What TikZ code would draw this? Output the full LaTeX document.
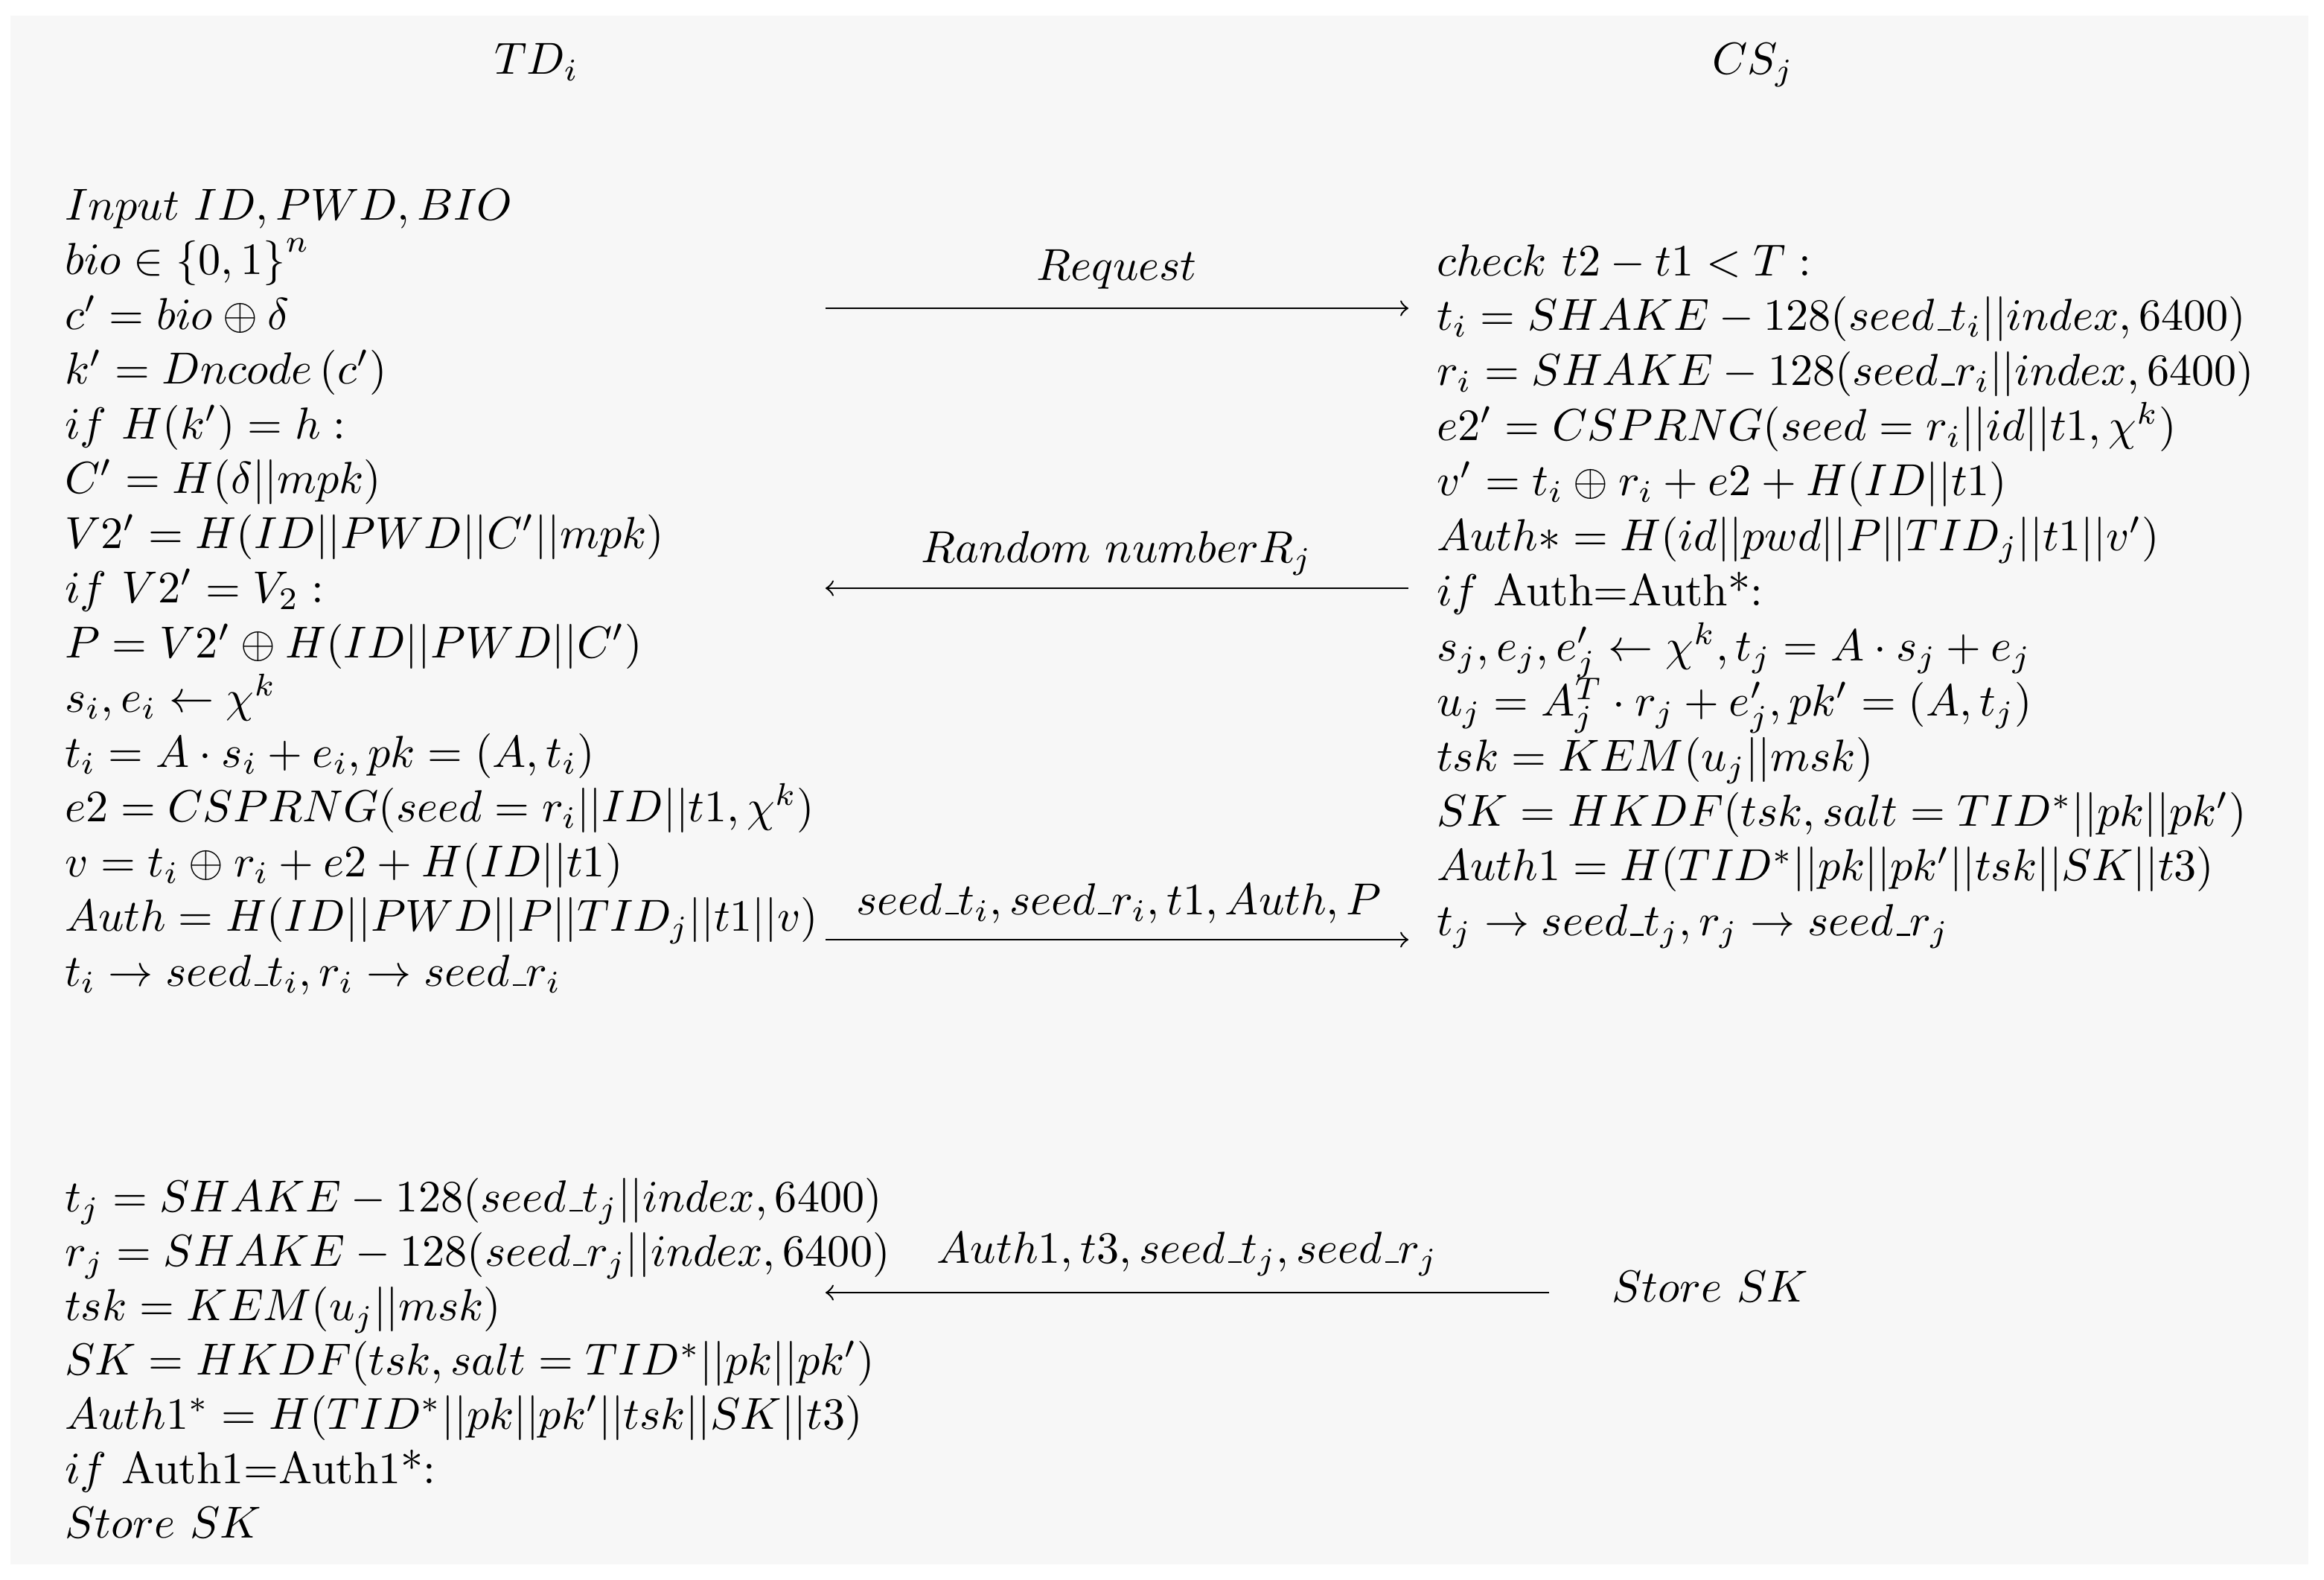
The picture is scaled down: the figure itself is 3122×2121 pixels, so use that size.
\documentclass[tikz,border=0pt]{standalone}
\usepackage{amsmath}
\newcommand\myus{\kern.06em\vbox{\hrule width.3em}}
\begin{document}
\begin{tikzpicture}[x=0.1661pt,y=-0.1661pt,
  txt/.style={inner sep=0pt,anchor=base west},
  hdr/.style={inner sep=0pt,anchor=base},
  lbl/.style={inner sep=0pt,anchor=base},
  msg/.style={->,line width=0.4pt}]
\useasboundingbox (0,0) rectangle (3122,2121);
\fill[white] (0,0) rectangle (3122,2121);
\fill[black!3] (14,21) rectangle (3101,2101);
% headers
\node[hdr] (tdi) at (721,99) {$TD_i$};
\node[hdr] (csj) at (2355,99) {$CS_j$};
% left column
\node[txt] (l1) at (86,295.0) {$Input\ ID, PWD, BIO$};
\node[txt] (l2) at (86,368.5) {$bio \in \left\{0,1\right\}^n$};
\node[txt] (l3) at (86,442.0) {$c' = bio \oplus \delta$};
\node[txt] (l4) at (86,515.5) {$k' = Dncode\left(c'\right)$};
\node[txt] (l5) at (86,589.0) {$if\ H(k') = h:$};
\node[txt] (l6) at (86,662.5) {$C' = H(\delta||mpk)$};
\node[txt] (l7) at (86,736.0) {$V2' = H(ID||PWD||C'||mpk)$};
\node[txt] (l8) at (86,809.5) {$if\ V2' = V_2:$};
\node[txt] (l9) at (86,883.0) {$P = V2' \oplus H(ID||PWD||C')$};
\node[txt] (l10) at (86,956.5) {$s_i, e_i \leftarrow \chi^k$};
\node[txt] (l11) at (86,1030.0) {$t_i = A\cdot s_i + e_i, pk = (A, t_i)$};
\node[txt] (l12) at (86,1103.5) {$e2 = CSPRNG(seed = r_i||ID||t1, \chi^k)$};
\node[txt] (l13) at (86,1177.0) {$v = t_i \oplus r_i + e2 + H(ID||t1)$};
\node[txt] (l14) at (86,1250.5) {$Auth = H(ID||PWD||P||TID_j||t1||v)$};
\node[txt] (l15) at (86,1324.0) {$t_i \rightarrow seed\myus t_i, r_i \rightarrow seed\myus r_i$};
% right column
\node[txt] (r1) at (1929,370.0) {$check\ t2 - t1 < T:$};
\node[txt] (r2) at (1929,443.9) {$t_i = SHAKE - 128(seed\myus t_i||index, 6400)$};
\node[txt] (r3) at (1929,517.8) {$r_i = SHAKE - 128(seed\myus r_i||index, 6400)$};
\node[txt] (r4) at (1929,591.7) {$e2' = CSPRNG(seed = r_i||id||t1, \chi^k)$};
\node[txt] (r5) at (1929,665.6) {$v' = t_i \oplus r_i + e2 + H(ID||t1)$};
\node[txt] (r6) at (1929,739.5) {$Auth* = H(id||pwd||P||TID_j||t1||v')$};
\node[txt] (r7) at (1929,813.4) {$if$ Auth=Auth*:};
\node[txt] (r8) at (1929,887.3) {$s_j, e_j, e'_j \leftarrow \chi^k, t_j = A\cdot s_j + e_j$};
\node[txt] (r9) at (1929,961.2) {$u_j = A_j^T \cdot r_j + e'_j, pk' = (A, t_j)$};
\node[txt] (r10) at (1929,1035.1) {$tsk = KEM(u_j||msk)$};
\node[txt] (r11) at (1929,1109.0) {$SK = HKDF(tsk, salt = TID^*||pk||pk')$};
\node[txt] (r12) at (1929,1182.9) {$Auth1 = H(TID^*||pk||pk'||tsk||SK||t3)$};
\node[txt] (r13) at (1929,1256.8) {$t_j \rightarrow seed\myus t_j, r_j \rightarrow seed\myus r_j$};
% bottom left
\node[txt] (b1) at (86,1627) {$t_j = SHAKE - 128(seed\myus t_j||index, 6400)$};
\node[txt] (b2) at (86,1700) {$r_j = SHAKE - 128(seed\myus r_j||index, 6400)$};
\node[txt] (b3) at (86,1773) {$tsk = KEM(u_j||msk)$};
\node[txt] (b4) at (86,1846) {$SK = HKDF(tsk, salt = TID^*||pk||pk')$};
\node[txt] (b5) at (86,1919) {$Auth1^* = H(TID^*||pk||pk'||tsk||SK||t3)$};
\node[txt] (b6) at (86,1992) {$if$ Auth1=Auth1*:};
\node[txt] (b7) at (86,2065) {$Store\ SK$};
\node[txt] (st) at (2164,1748) {$Store\ SK$};
% arrow end points
\coordinate (m1a) at (1109,414);
\coordinate (m1b) at (1892,414);
\coordinate (m2a) at (1892,790);
\coordinate (m2b) at (1109,790);
\coordinate (m3a) at (1109,1262);
\coordinate (m3b) at (1892,1262);
\coordinate (m4a) at (2081,1736);
\coordinate (m4b) at (1109,1736);
% arrows and labels
\draw[msg] (m1a) -- (m1b);
\node[lbl] (t1) at (1500,376) {$Request$};
\draw[msg] (m2a) -- (m2b);
\node[lbl] (t2) at (1500,755) {$Random\ number R_j$};
\draw[msg] (m3a) -- (m3b);
\node[lbl] (t3) at (1503,1228) {$seed\myus t_i, seed\myus r_i, t1, Auth, P$};
\draw[msg] (m4a) -- (m4b);
\node[lbl] (t4) at (1595,1696) {$Auth1, t3, seed\myus t_j, seed\myus r_j$};
\end{tikzpicture}
\end{document}
